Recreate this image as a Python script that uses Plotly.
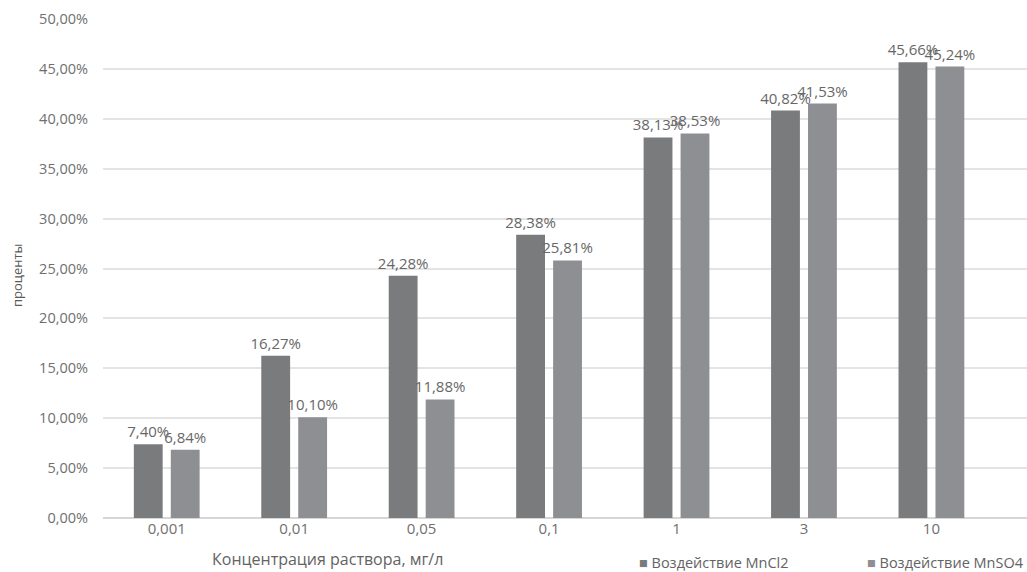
import plotly.graph_objects as go

# Концентрации (мг/л) и доля эффекта, %
concentrations = ["0,001", "0,01", "0,05", "0,1", "1", "3", "10"]
mncl2_values = [7.40, 16.27, 24.28, 28.38, 38.13, 40.82, 45.66]
mnso4_values = [6.84, 10.10, 11.88, 25.81, 38.53, 41.53, 45.24]
series_names = ["Воздействие MnCl2", "Воздействие MnSO4"]
series_colors = ["#7a7b7d", "#8e8f92"]

FONT = "Open Sans"
label_color = "#676767"
tick_color = "#6f6f6f"

fig = go.Figure()
for name, vals, col in zip(series_names, [mncl2_values, mnso4_values], series_colors):
    fig.add_trace(go.Bar(
        x=concentrations,
        y=vals,
        name=name,
        marker=dict(color=col, line=dict(width=0)),
        texttemplate="%{y:.2f}%",
        textposition="outside",
        constraintext="none",
        cliponaxis=False,
        textfont=dict(family=FONT, size=15, color=label_color),
        showlegend=False,
    ))

fig.update_layout(
    width=1027,
    height=572,
    margin=dict(l=103, r=0, t=19, b=54),
    paper_bgcolor="white",
    plot_bgcolor="white",
    separators=", ",
    barmode="group",
    bargap=0.42,
    bargroupgap=0.22,
    font=dict(family=FONT, color=tick_color),
    xaxis=dict(
        range=[-0.5, 6.75],
        showgrid=False,
        showline=False,
        ticks="",
        tickfont=dict(family=FONT, size=15, color=tick_color),
    ),
    yaxis=dict(
        range=[0, 50],
        dtick=5,
        tickformat=".2f",
        ticksuffix="%",
        showgrid=True,
        gridcolor="#e4e4e4",
        gridwidth=1.5,
        zeroline=True,
        zerolinecolor="#d6d6d6",
        zerolinewidth=1.5,
        showline=False,
        ticks="",
        ticklabelstandoff=14,
        tickfont=dict(family=FONT, size=14.5, color=tick_color),
    ),
)

# Подписи осей
fig.add_annotation(
    text="Концентрация раствора, мг/л",
    xref="paper", yref="paper",
    x=(327 - 103) / 924, y=-(559 - 518) / 499,
    xanchor="center", yanchor="middle",
    showarrow=False,
    font=dict(family=FONT, size=16, color="#636363"),
)
fig.add_annotation(
    text="проценты",
    xref="paper", yref="paper",
    x=-(103 - 17) / 924, y=(518 - 275) / 499,
    xanchor="center", yanchor="middle",
    textangle=-90,
    showarrow=False,
    font=dict(family=FONT, size=13, color="#5a5a5a"),
)

# Легенда
for name, col, x_px in zip(series_names, series_colors, [637, 865]):
    fig.add_annotation(
        text=f'<span style="color:{col}">■</span> {name}',
        xref="paper", yref="paper",
        x=(x_px - 103) / 924, y=-(562 - 518) / 499,
        xanchor="left", yanchor="middle",
        showarrow=False,
        font=dict(family=FONT, size=14.5, color="#636363"),
    )

fig.write_html("out.html")
